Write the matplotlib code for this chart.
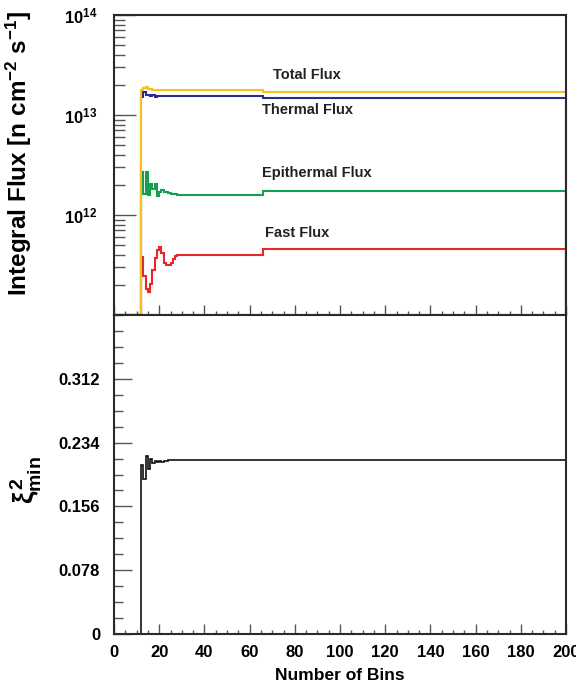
import numpy as np
import matplotlib
matplotlib.use('Agg')
import matplotlib.pyplot as plt
from matplotlib.ticker import MultipleLocator, LogLocator, NullFormatter

plt.rcParams['font.family'] = ['Liberation Sans', 'DejaVu Sans']
plt.rcParams['font.weight'] = 'bold'
plt.rcParams['mathtext.fontset'] = 'custom'
plt.rcParams['mathtext.rm'] = 'Liberation Sans:bold'
plt.rcParams['mathtext.bf'] = 'Liberation Sans:bold'
plt.rcParams['mathtext.it'] = 'Liberation Sans:bold'

# bins of the histograms: bin i covers [i, i+1], first filled bin is 12
n_bins = 200
first_bin = 12
jump_bin = 66

# flux values, bins 12.. then plateau levels
total_early = [1.758e13, 1.841e13, 1.884e13, 1.820e13, 1.799e13, 1.778e13]
total_mid = 1.758e13
total_late = 1.698e13

thermal_early = [1.524e13, 1.710e13, 1.585e13, 1.603e13, 1.560e13, 1.596e13, 1.514e13]
thermal_mid = 1.549e13
thermal_late = 1.496e13

epi_early = [2.69e12, 1.62e12, 2.69e12, 1.585e12, 2.04e12, 1.82e12, 2.04e12,
             1.55e12, 1.71e12, 1.78e12, 1.70e12, 1.68e12, 1.66e12, 1.64e12,
             1.62e12, 1.61e12]
epi_mid = 1.57e12
epi_late = 1.75e12

fast_early = [3.80e11, 2.45e11, 1.82e11, 1.70e11, 2.04e11, 2.82e11, 3.72e11,
              4.47e11, 4.79e11, 4.17e11, 3.31e11, 3.16e11, 3.16e11, 3.31e11,
              3.63e11, 3.89e11, 3.98e11]
fast_mid = 3.94e11
fast_late = 4.57e11

chi2_early = [0.2067, 0.1900, 0.2178, 0.2014, 0.2137, 0.2088, 0.2116, 0.2097,
              0.2119, 0.2103, 0.2115, 0.2121]
chi2_late = 0.2125


def build(early, mid, late, jump=jump_bin):
    v = np.zeros(n_bins)
    v[first_bin:first_bin + len(early)] = early
    v[first_bin + len(early):jump] = mid
    v[jump:] = late
    return v


edges = np.arange(0, n_bins + 1)
total = build(total_early, total_mid, total_late)
thermal = build(thermal_early, thermal_mid, thermal_late)
epi = build(epi_early, epi_mid, epi_late)
fast = build(fast_early, fast_mid, fast_late)
chi2 = build(chi2_early, chi2_late, chi2_late)

ymin = 1e11

fig = plt.figure(figsize=(5.76, 6.87), dpi=100)
ax1 = fig.add_axes([114 / 576, 372 / 687, 452 / 576, 300 / 687])
ax2 = fig.add_axes([114 / 576, 53 / 687, 452 / 576, 319 / 687])

series = [(fast, '#e8262b'), (epi, '#12a14f'), (thermal, '#2a2c8c'), (total, '#f6c21a')]
for vals, col in series:
    ax1.stairs(np.where(vals > 0, vals, ymin), edges, baseline=ymin,
               color=col, lw=1.5)

ax1.set_yscale('log')
ax1.set_ylim(ymin, 1e14)
ax1.set_xlim(0, 200)
ax1.set_yticks([1e12, 1e13, 1e14])
ax1.set_yticklabels([r'$10^{12}$', r'$10^{13}$', r'$10^{14}$'])
ax1.yaxis.set_minor_locator(LogLocator(base=10, subs=np.arange(2, 10)))
ax1.yaxis.set_minor_formatter(NullFormatter())
ax1.set_ylabel(r'Integral Flux [n cm$^{-2}$ s$^{-1}$]', fontsize=17.5, fontweight='bold')
ax1.yaxis.set_label_coords(-0.178, 0.537)

ax1.text(70.5, 2.5e13, 'Total Flux', fontsize=10.5, fontweight='bold', va='center', color='#222222')
ax1.text(65.5, 1.12e13, 'Thermal Flux', fontsize=10.5, fontweight='bold', va='center', color='#222222')
ax1.text(65.5, 2.63e12, 'Epithermal Flux', fontsize=10.5, fontweight='bold', va='center', color='#222222')
ax1.text(66.8, 6.6e11, 'Fast Flux', fontsize=10.5, fontweight='bold', va='center', color='#222222')

ax2.stairs(chi2, edges, baseline=0, color='#111111', lw=1.2)
ax2.set_xlim(0, 200)
ax2.set_ylim(0, 0.39)
ax2.set_yticks([0, 0.078, 0.156, 0.234, 0.312])
ax2.set_yticklabels(['0', '0.078', '0.156', '0.234', '0.312'])
ax2.yaxis.set_minor_locator(MultipleLocator(0.0195))
ax2.set_ylabel(r'$\xi^{2}_{min}$', fontsize=20)
ax2.yaxis.set_label_coords(-0.155, 0.483)
ax2.set_xlabel('Number of Bins', fontsize=12.5, fontweight='bold')
ax2.xaxis.set_label_coords(0.5, -0.1066)

for ax in (ax1, ax2):
    ax.xaxis.set_major_locator(MultipleLocator(20))
    ax.xaxis.set_minor_locator(MultipleLocator(5))
    ax.tick_params(axis='both', which='both', direction='in', top=False, right=False,
                   colors='#555555', labelcolor='black', labelsize=12, width=1)
    ax.tick_params(axis='x', which='major', length=7, pad=8)
    ax.tick_params(axis='x', which='minor', length=3)
    for s in ax.spines.values():
        s.set_color('#2a2a2a')
        s.set_linewidth(1.5)

ax1.tick_params(axis='y', which='major', length=16, pad=12)
ax1.tick_params(axis='y', which='minor', length=8)
ax1.tick_params(axis='x', labelbottom=False)
ax2.tick_params(axis='y', which='major', length=13, pad=10)
ax2.tick_params(axis='y', which='minor', length=6.5)

for lab in ax1.get_yticklabels() + ax2.get_yticklabels() + ax2.get_xticklabels():
    lab.set_fontweight('bold')

fig.savefig('out.png', dpi=100)
